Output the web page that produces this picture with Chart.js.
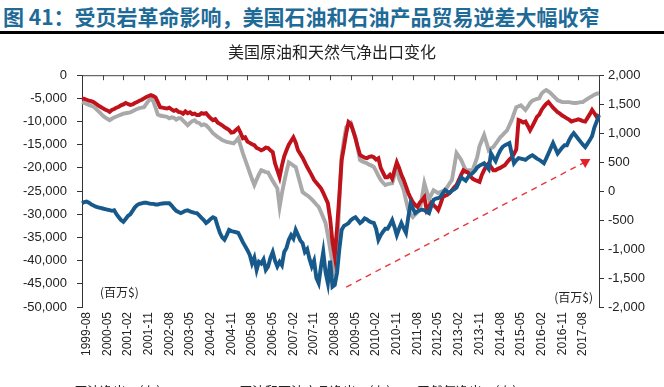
<!DOCTYPE html>
<html><head><meta charset="utf-8">
<script src="https://cdn.jsdelivr.net/npm/chart.js@4.4.1/dist/chart.umd.min.js"></script>
<style>
html,body{margin:0;padding:0;background:#fff;width:664px;height:387px;overflow:hidden;position:relative;}
#hdr{position:absolute;left:3px;top:1px;font:bold 21px "Noto Sans CJK SC",sans-serif;color:#1f6b97;white-space:nowrap;letter-spacing:0px;}
#rule{position:absolute;left:0;top:31px;width:664px;height:3px;background:#000;}
#wrap{position:absolute;left:0;top:36px;width:664px;height:351px;}
#legend{position:absolute;top:381px;left:0;width:664px;font:13px "Noto Sans CJK SC",sans-serif;color:#222;white-space:nowrap;}
#legend span.it{position:absolute;top:0;}
#legend i{display:inline-block;width:28px;height:3px;vertical-align:middle;margin-right:6px;}
</style></head>
<body>
<div id="hdr">图 41：受页岩革命影响，美国石油和石油产品贸易逆差大幅收窄</div>
<div id="rule"></div>
<div id="wrap"><canvas id="c" width="664" height="351"></canvas></div>
<div id="legend">
 <span class="it" style="left:40px"><i style="background:#c0121b"></i>原油净出口(左)</span>
 <span class="it" style="left:205px"><i style="background:#a9a9a9"></i>原油和石油产品净出口(左)</span>
 <span class="it" style="left:383px"><i style="background:#17598a"></i>天然气净出口(右)</span>
</div>
<script>
// months 1999-06 .. 2018-03
const categories = [];
for (let y = 1999, m = 6; categories.length < 226; ) {
  categories.push(y + '-' + String(m).padStart(2, '0'));
  m++; if (m > 12) { m = 1; y++; }
}
const tickLabels = ['1999-08','2000-05','2001-02','2001-11','2002-08','2003-05','2004-02','2004-11','2005-08','2006-05','2007-02','2007-11','2008-08','2009-05','2010-02','2010-11','2011-08','2012-05','2013-02','2013-11','2014-08','2015-05','2016-02','2016-11','2017-08'];
const leftTicks = [0,-5000,-10000,-15000,-20000,-25000,-30000,-35000,-40000,-45000,-50000];
const rightTicks = [2000,1500,1000,500,0,-500,-1000,-1500,-2000];

const crudeNet = [
-5000,-5100,-5300,-5500,-5600,-5800,
-6100,-6500,-6800,-7100,-7400,-7600,
-7900,-7500,-7300,-7000,-6800,-6500,-6300,
-6000,-6200,-6400,-6300,-6000,-5800,
-5500,-5300,-5000,-4700,-4500,-4300,
-4500,-4800,-5800,-6900,-7000,-7100,
-7200,-7000,-7400,-7700,-7500,-7900,
-8000,-8300,-7800,-8200,-8000,-8400,
-8300,-8600,-8600,-8200,-8300,-8200,
-8800,-9300,-9700,-9500,-10200,-10500,
-10800,-11200,-11500,-11800,-12400,-12300,
-11800,-11400,-12400,-13600,-13400,-14300,
-14600,-14900,-15100,-15700,-15900,-16200,
-16000,-15600,-15700,-16200,-16600,-19000,
-20500,-22000,-19500,-17500,-16200,-15000,
-14200,-13400,-14500,-16200,-17000,-17800,
-18800,-19800,-20700,-21600,-22600,-23200,
-23800,-24400,-25400,-26500,-27600,-31000,
-36000,-39000,-33000,-26000,-18300,-15500,
-12500,-10100,-10500,-12000,-13600,-15500,
-17200,-17500,-17800,-17900,-17600,-17500,
-17700,-18200,-17900,-20000,-21000,-22000,
-22000,-21500,-22300,-20500,-18800,-20000,
-21500,-22600,-24000,-25400,-26500,-27400,
-28000,-28400,-27500,-27000,-26300,-29100,
-28300,-27500,-28000,-28500,-29100,-27800,
-26300,-26000,-25800,-25400,-24800,-24200,
-23700,-22600,-21500,-20500,-20800,-21000,
-21800,-22300,-22600,-22800,-23000,-21500,
-20500,-19500,-19000,-19800,-20500,-20500,
-20200,-20000,-19700,-19400,-18800,-18200,
-17700,-17000,-16000,-9700,-9900,-10200,
-10000,-10900,-11900,-11000,-10000,-9000,
-8500,-7500,-6800,-6200,-5800,-6400,
-7000,-7500,-8000,-8300,-8700,-9000,
-9300,-9600,-10000,-9800,-9700,-9500,
-9700,-9900,-10000,-9200,-8400,-7500,
-8200,-9000,-8500];

const crudeProductsNet = [
-5800,-6000,-6200,-6400,-6600,-6800,
-7200,-7700,-8200,-8700,-9100,-9400,
-9700,-9400,-9100,-8900,-8700,-8500,-8300,
-8200,-8100,-8000,-7800,-7500,-7300,
-7100,-7000,-6900,-6200,-5500,-5000,
-5600,-7000,-8500,-8700,-8800,-8900,
-9000,-9300,-9100,-9200,-9600,-9300,
-9300,-9800,-10300,-10800,-10300,-9900,
-9700,-10200,-10300,-10800,-10600,-10800,
-11300,-11900,-12500,-12900,-13300,-13600,
-14000,-14200,-14400,-14500,-14600,-14700,
-14200,-13600,-15200,-16800,-18200,-19600,
-21000,-22400,-23700,-22500,-21400,-20500,
-20700,-20900,-21000,-21900,-22800,-23600,
-24400,-28400,-25500,-23000,-20800,-18800,
-19100,-19500,-19800,-21600,-23400,-25200,
-25600,-25900,-26300,-26800,-27300,-27900,
-28400,-29500,-30700,-31900,-34500,-37500,
-40500,-43000,-38000,-27000,-17500,-14000,
-11200,-10700,-10300,-11900,-13400,-15800,
-18300,-18600,-18800,-19000,-19300,-19500,
-19800,-20700,-21700,-22600,-23200,-23700,
-23500,-23400,-23300,-21500,-19800,-22300,
-23500,-24800,-27000,-29100,-29900,-30600,
-30100,-29600,-29100,-26200,-23300,-25000,
-26700,-25800,-24800,-25100,-25400,-25200,
-25000,-24800,-24100,-23300,-22600,-19700,
-16800,-17500,-18300,-19400,-20500,-20500,
-20500,-20500,-19100,-17700,-15300,-14100,
-12900,-14500,-16200,-15800,-15500,-14800,
-14100,-13400,-12900,-12400,-11900,-10800,
-9700,-8300,-6900,-6700,-6500,-7000,
-7500,-6800,-6000,-5500,-5300,-5100,
-5000,-4000,-3500,-3200,-3500,-3900,
-4400,-4900,-5400,-5600,-5800,-5800,
-5800,-5800,-5900,-6000,-6000,-5900,
-5800,-5800,-5400,-5100,-4800,-4500,
-4200,-4000,-3900];

const gasNet = [
-210,-190,-180,-200,-230,-250,
-270,-280,-290,-300,-310,-320,
-330,-340,-330,-400,-450,-500,-530,
-480,-430,-400,-340,-280,-240,
-220,-210,-200,-200,-210,-220,
-220,-230,-230,-220,-215,-210,
-210,-210,-250,-300,-340,-360,
-380,-360,-340,-330,-350,-365,
-375,-380,-420,-460,-500,-550,
-520,-480,-450,-470,-600,-720,
-800,-840,-760,-670,-690,-700,
-710,-720,-800,-880,-950,-1020,
-1100,-1250,-1150,-1360,-1220,-1250,
-1180,-1360,-1300,-1150,-1050,-1200,
-1300,-1220,-1280,-1050,-980,-840,
-760,-820,-670,-760,-850,-900,
-1050,-1000,-1170,-1300,-1200,-1500,
-1590,-1300,-1050,-1400,-1590,-1200,
-1650,-1620,-1410,-1000,-670,-600,
-580,-550,-500,-470,-450,-500,
-550,-520,-470,-490,-520,-540,
-550,-650,-840,-760,-700,-650,
-650,-580,-500,-620,-760,-650,
-550,-640,-720,-450,-210,-300,
-380,-350,-330,-320,-330,-360,
-380,-260,-150,-130,-120,-100,
-40,20,-10,-30,10,30,
60,150,240,210,180,240,
280,310,350,410,440,460,
480,430,380,650,580,520,
620,700,760,790,810,830,
650,480,530,570,560,550,
540,570,600,620,590,560,
540,510,480,560,650,740,
830,740,650,700,750,790,
790,880,950,1000,950,900,
850,800,760,820,880,950,
1100,1200,1310];

// dashed trend arrow (left-axis values)
const arrowIdx = [115, 219];
const arrowVals = [-45700, -18700];
const arrowData = categories.map(() => null);
arrowIdx.forEach((k, j) => { arrowData[k] = arrowVals[j]; });

const FONT = 'Liberation Sans, Arial, sans-serif';

const decor = {
  id: 'decor',
  afterDraw(chart) {
    const ctx = chart.ctx, a = chart.chartArea, xs = chart.scales.x;
    ctx.save();
    ctx.strokeStyle = '#444'; ctx.lineWidth = 1;
    ctx.beginPath();
    ctx.moveTo(a.left, a.top + 0.5); ctx.lineTo(a.right, a.top + 0.5);
    for (let k = 9; k < categories.length; k += 9) {
      const px = Math.round(xs.getPixelForValue(k)) + 0.5;
      ctx.moveTo(px, a.top); ctx.lineTo(px, a.top + 5);
    }
    ctx.stroke();
    ctx.fillStyle = '#222';
    ctx.font = '12px "Noto Sans CJK SC", sans-serif';
    ctx.textBaseline = 'middle';
    ctx.textAlign = 'left';
    ctx.fillText('(百万$)', a.left + 18, a.bottom - 15);
    ctx.textAlign = 'right';
    ctx.fillText('(百万$)', a.right - 6, a.bottom - 10);
    ctx.restore();
  }
};

new Chart(document.getElementById('c'), {
  type: 'line',
  data: {
    labels: categories,
    datasets: [
      { label: '趋势', data: arrowData, yAxisID: 'y', spanGaps: true, borderColor: '#e5383e', borderWidth: 1.4, borderDash: [6, 5],
        pointRadius: ctx => ctx.dataIndex === arrowIdx[1] ? 6 : 0, pointStyle: 'triangle', rotation: 180,
        pointBackgroundColor: '#e5202a', pointBorderColor: '#e5202a', pointBorderWidth: 0, order: 0 },
      { label: '天然气净出口(右)', data: gasNet, yAxisID: 'y1', borderColor: '#17598a', borderWidth: 3.9, pointRadius: 0, order: 1 },
      { label: '原油净出口(左)', data: crudeNet, yAxisID: 'y', borderColor: '#c0121b', borderWidth: 3.9, pointRadius: 0, order: 2 },
      { label: '原油和石油产品净出口(左)', data: crudeProductsNet, yAxisID: 'y', borderColor: '#a9a9a9', borderWidth: 3.9, pointRadius: 0, order: 3 }
    ]
  },
  options: {
    responsive: false, animation: false, events: [],
    layout: { padding: { left: 0, right: 0, top: 0, bottom: 0 } },
    plugins: {
      legend: { display: false }, tooltip: { enabled: false },
      title: { display: true, text: '美国原油和天然气净出口变化', color: '#222',
        font: { family: '"Noto Sans CJK SC", sans-serif', size: 16, weight: 'normal' }, padding: { top: 6, bottom: 14 } }
    },
    scales: {
      x: {
        type: 'category', offset: false,
        grid: { display: false, drawTicks: false },
        border: { display: false },
        ticks: { autoSkip: false, maxRotation: 90, minRotation: 90, padding: 5, color: '#222',
          font: { family: FONT, size: 12 },
          callback: function (v, i) { const l = categories[i]; return tickLabels.includes(l) ? l : null; } },
        afterFit(s) { s.height = 80; }
      },
      y: {
        position: 'left', min: -50000, max: 0,
        afterBuildTicks(s) { s.ticks = leftTicks.map(v => ({ value: v })); },
        grid: { drawOnChartArea: false, drawTicks: true, tickLength: 5, color: '#333' },
        border: { display: true, color: '#333', width: 1 },
        ticks: { padding: 10, color: '#222', font: { family: FONT, size: 13 },
          callback: v => v.toLocaleString('en-US') },
        afterFit(s) { s.width = 82; }
      },
      y1: {
        position: 'right', min: -2000, max: 2000,
        afterBuildTicks(s) { s.ticks = rightTicks.map(v => ({ value: v })); },
        grid: { drawOnChartArea: false, drawTicks: true, tickLength: 5, color: '#333' },
        border: { display: true, color: '#333', width: 1 },
        ticks: { padding: 4, color: '#222', font: { family: FONT, size: 13 },
          callback: v => v.toLocaleString('en-US') },
        afterFit(s) { s.width = 65; }
      }
    }
  },
  plugins: [decor]
});
</script>
</body></html>
